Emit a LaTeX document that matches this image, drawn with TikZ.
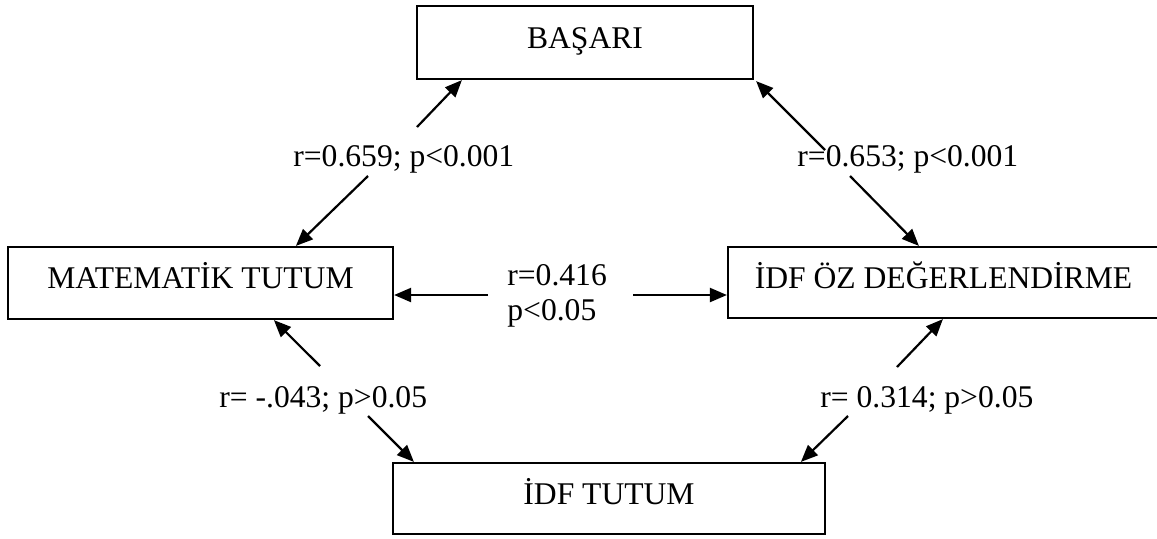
\documentclass[tikz,border=0pt]{standalone}
\usepackage{fontspec}
\setmainfont{Liberation Serif}
\usetikzlibrary{arrows.meta,calc}
\begin{document}
\begin{tikzpicture}[x=0.5pt,y=-0.5pt,
  box/.style={draw,line width=1.1pt,inner sep=0pt,text height=11pt,text depth=5.5pt,
    font=\fontsize{15.8}{19}\selectfont},
  lab/.style={inner sep=0pt,anchor=base west,font=\fontsize{15.8}{19}\selectfont},
  arr/.style={line width=1.1pt,-{Triangle[length=8.5pt,width=7pt]}}]
\useasboundingbox (0,0) rectangle (1157,538);
\node[box,minimum width=168pt,minimum height=36.5pt] (basari) at (585,42.5) {BAŞARI};
\node[box,minimum width=192.5pt,minimum height=36pt] (mat) at (200.5,283) {MATEMATİK TUTUM};
\node[box,minimum width=215.5pt,minimum height=35.5pt] (idfoz) at (943.5,282.5) {İDF ÖZ DEĞERLENDİRME};
\node[box,minimum width=216pt,minimum height=35.5pt] (idft) at (609,498.5) {İDF TUTUM};
% labels
\node[lab] (l1) at (293,166) {r=0.659; p<0.001};
\node[lab] (l2) at (797,166) {r=0.653; p<0.001};
\node[lab] (l3a) at (507,285) {r=0.416};
\node[lab] (l3b) at (507,320) {p<0.05};
\node[lab] (l4) at (219,407) {r= -.043; p>0.05};
\node[lab] (l5) at (820,407) {r= 0.314; p>0.05};
% gap coordinates
\coordinate (g1a) at (417,127);
\coordinate (g1b) at (368,176);
\coordinate (g2a) at (825,150);
\coordinate (g2b) at (850,176);
\coordinate (g3a) at (488,295);
\coordinate (g3b) at (633,295);
\coordinate (g4a) at (320,366);
\coordinate (g4b) at (368,416);
\coordinate (g5a) at (897,367);
\coordinate (g5b) at (848,416);
% arrows
\draw[arr] (g1a) -- ($(basari.south west)+(46,0)$);
\draw[arr] (g1b) -- ($(mat.north west)+(289,0)$);
\draw[arr] (g2a) -- ($(basari.south east)+(2,1)$);
\draw[arr] (g2b) -- ($(idfoz.north west)+(192,0)$);
\draw[arr] (g3a) -- ($(mat.east)+(0,12)$);
\draw[arr] (g3b) -- ($(idfoz.west)+(0,12.5)$);
\draw[arr] (g4a) -- ($(mat.south west)+(267,0)$);
\draw[arr] (g4b) -- ($(idft.north west)+(22,0)$);
\draw[arr] (g5a) -- ($(idfoz.south west)+(216,0)$);
\draw[arr] (g5b) -- ($(idft.north west)+(409,0)$);
\end{tikzpicture}
\end{document}
